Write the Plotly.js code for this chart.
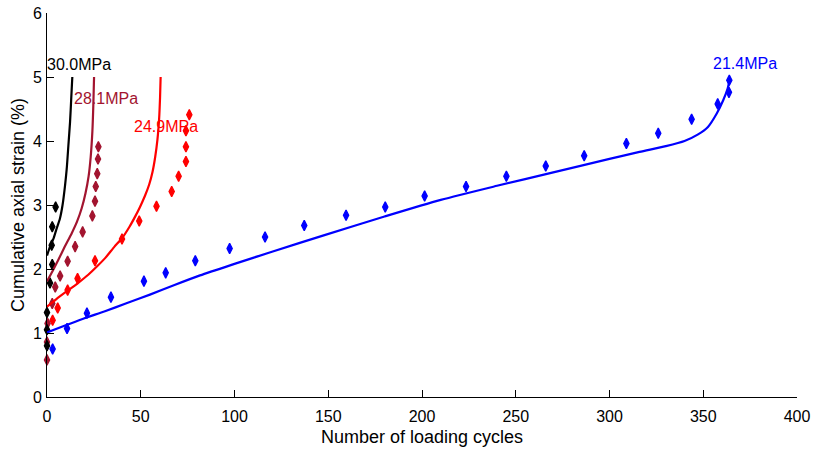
<!DOCTYPE html>
<html>
<head>
<meta charset="utf-8">
<script src="https://cdn.plot.ly/plotly-3.0.1.min.js"></script>
<style>
html, body { margin: 0; padding: 0; background: #fff; }
#chart { width: 814px; height: 451px; }
</style>
</head>
<body>
<div id="chart"></div>
<script>
// ---- Data ----
// Measured points (diamonds)
const blueX = [3.0, 10.7, 21.3, 34.1, 51.7, 63.3, 79.1, 97.4, 116.3, 137.2, 159.5, 180.4, 201.4, 223.5, 245, 266, 286.5, 309, 326, 343.8, 357.7, 363.7, 363.9];
const blueY = [0.75, 1.07, 1.31, 1.56, 1.81, 1.94, 2.13, 2.32, 2.50, 2.68, 2.84, 2.97, 3.14, 3.29, 3.45, 3.61, 3.77, 3.96, 4.12, 4.34, 4.58, 4.76, 4.95];

const redX = [3.0, 5.7, 11.0, 16.3, 25.6, 40.0, 49.2, 58.4, 66.5, 70.2, 74.1, 74.1, 74.1, 75.9];
const redY = [1.20, 1.39, 1.67, 1.85, 2.13, 2.47, 2.75, 2.98, 3.21, 3.45, 3.68, 3.91, 4.16, 4.41];

const darkRedX = [0.0, 0.0, 0.3, 2.8, 4.4, 7.0, 11.0, 15.0, 19.0, 24.2, 25.6, 26.0, 26.8, 27.2, 27.4];
const darkRedY = [0.58, 0.86, 1.15, 1.46, 1.72, 1.89, 2.12, 2.35, 2.58, 2.83, 3.06, 3.29, 3.49, 3.72, 3.91];

const blackX = [0.0, 0.0, 0.0, 1.6, 2.8, 2.5, 2.8, 4.6];
const blackY = [0.80, 1.05, 1.32, 1.78, 2.07, 2.37, 2.66, 2.97];

// Model curves
const blueFitX = [0, 10, 20, 30.9, 42, 54.9, 68, 81.6, 100, 120, 148, 180, 210, 240, 270, 300, 316, 330, 340, 347, 352.5, 357.2, 360.7, 363.0, 364];
const blueFitY = [1.01, 1.12, 1.23, 1.34, 1.46, 1.60, 1.75, 1.90, 2.08, 2.27, 2.53, 2.82, 3.08, 3.30, 3.51, 3.72, 3.83, 3.92, 4.00, 4.10, 4.22, 4.43, 4.64, 4.82, 4.95];

const redFitX = [0, 5, 11.4, 16.5, 22, 27, 31, 36, 40, 44, 47.2, 49.6, 52.2, 54.5, 56.3, 57.7, 58.9, 59.8, 60.3, 60.6];
const redFitY = [1.41, 1.53, 1.67, 1.78, 1.91, 2.05, 2.17, 2.35, 2.48, 2.66, 2.83, 2.97, 3.14, 3.32, 3.52, 3.75, 4.02, 4.35, 4.68, 5.00];

const darkRedFitX = [0, 3, 6, 9.5, 13.2, 16, 18.5, 20.5, 22.2, 23.3, 24.2, 24.7, 25.1];
const darkRedFitY = [1.81, 1.97, 2.14, 2.35, 2.56, 2.74, 2.95, 3.18, 3.45, 3.75, 4.15, 4.55, 5.00];

const blackFitX = [0, 2, 3.4, 5, 6.9, 8.3, 9.6, 10.5, 11.4, 12.3, 12.9, 13.5];
const blackFitY = [2.21, 2.38, 2.47, 2.62, 2.79, 3.00, 3.30, 3.56, 3.93, 4.30, 4.65, 5.00];

const labels = ['30.0MPa', '28.1MPa', '24.9MPa', '21.4MPa'];
const labelX = [0.6, 14.7, 46.7, 355.5];
const labelY = [5.19, 4.67, 4.22, 5.21];

const xTicks = [0, 50, 100, 150, 200, 250, 300, 350, 400];
const yTicks = [0, 1, 2, 3, 4, 5, 6];

// ---- Styles ----
const cBlue = '#0000FF', cRed = '#FF0000', cDark = '#A2142F', cBlack = '#000000';
const labelColors = [cBlack, cDark, cRed, cBlue];
const FONT = 'Liberation Sans, Arial, Helvetica, sans-serif';

function pts(x, y, c) {
  return { x: x, y: y, type: 'scatter', mode: 'markers', cliponaxis: false,
    marker: { symbol: 'diamond-tall', size: 7.5, color: c, line: { color: c, width: 1.3 } },
    showlegend: false, hoverinfo: 'x+y' };
}
function fit(x, y, c) {
  return { x: x, y: y, type: 'scatter', mode: 'lines',
    line: { color: c, width: 2.2, shape: 'spline', smoothing: 0.7 }, showlegend: false, hoverinfo: 'x+y' };
}

const data = [
  pts(blueX, blueY, cBlue),
  pts(redX, redY, cRed),
  pts(darkRedX, darkRedY, cDark),
  pts(blackX, blackY, cBlack),
  fit(blueFitX, blueFitY, cBlue),
  fit(redFitX, redFitY, cRed),
  fit(darkRedFitX, darkRedFitY, cDark),
  fit(blackFitX, blackFitY, cBlack)
];

const annotations = labels.map((t, i) => ({
  x: labelX[i], y: labelY[i], xref: 'x', yref: 'y', text: t, showarrow: false,
  xanchor: 'left', yanchor: 'middle', xshift: -3,
  font: { family: FONT, size: 16, color: labelColors[i] }
}));

const axisCommon = {
  showline: true, linecolor: '#000', linewidth: 1, mirror: false,
  ticks: 'inside', ticklen: 7, tickwidth: 1, tickcolor: '#000',
  showgrid: false, zeroline: false,
  tickfont: { family: FONT, size: 16, color: '#000' }
};

const layout = {
  width: 814, height: 451,
  margin: { l: 47, r: 17, t: 13, b: 54 },
  paper_bgcolor: '#fff', plot_bgcolor: '#fff',
  font: { family: FONT, color: '#000' },
  showlegend: false,
  xaxis: Object.assign({}, axisCommon, {
    range: [0, 400], tickvals: xTicks, ticktext: xTicks.map(String),
    ticklabelstandoff: 5,
    title: { text: 'Number of loading cycles', font: { family: FONT, size: 18, color: '#000' }, standoff: 6 }
  }),
  yaxis: Object.assign({}, axisCommon, {
    range: [0, 6], tickvals: yTicks, ticktext: yTicks.map(String),
    ticklabelstandoff: 1,
    title: { text: 'Cumulative axial strain (%)', font: { family: FONT, size: 18, color: '#000' }, standoff: 3 }
  }),
  annotations: annotations
};

Plotly.newPlot('chart', data, layout, { displayModeBar: false, staticPlot: true });
</script>
</body>
</html>
